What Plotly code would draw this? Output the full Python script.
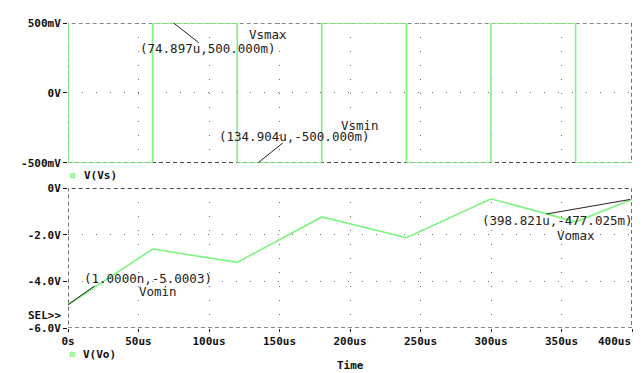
import plotly.graph_objects as go

# ---- data ----
vs_time_us = [0, 0, 60, 60, 120, 120, 180, 180, 240, 240, 300, 300, 360, 360, 400]
vs_volt = [0.5, -0.5, -0.5, 0.5, 0.5, -0.5, -0.5, 0.5, 0.5, -0.5, -0.5, 0.5, 0.5, -0.5, -0.5]
vo_time_us = [0, 60, 120, 180, 240, 300, 360, 400]
vo_volt = [-5.0, -2.61, -3.18, -1.23, -2.12, -0.45, -1.44, -0.477]

x_ticks = [0, 50, 100, 150, 200, 250, 300, 350, 400]
x_ticklabels = ["0s", "50us", "100us", "150us", "200us", "250us", "300us", "350us", "400us"]
vs_ticks = [-0.5, 0, 0.5]
vs_ticklabels = ["-500mV", "0V", "500mV"]
vo_ticks = [-6, -4, -2, 0]
vo_ticklabels = ["-6.0V", "-4.0V", "-2.0V", "0V"]

# the page body has an 8px margin: the figure starts at (8, 8) in the window
OFF = 8
W, H = 642 - OFF, 373 - OFF
ML, MR, MT, MB = 68 - OFF, 10, 23 - OFF, 45
PW, PH = W - ML - MR, H - MT - MB

def px(x):
    return (x - OFF - ML) / PW

def py(y):
    return (H - MB - (y - OFF)) / PH

GREEN = "#7cf57c"
GRID = "#6e6e6e"
AXF = dict(family="DejaVu Sans Mono", size=11, color="#111", weight="bold")
TXF = dict(family="DejaVu Sans Mono", size=12.5, color="#222")

fig = go.Figure()
fig.add_trace(go.Scatter(x=vs_time_us, y=vs_volt, mode="lines",
                         line=dict(color=GREEN, width=1.6), xaxis="x", yaxis="y",
                         showlegend=False, hoverinfo="skip"))
fig.add_trace(go.Scatter(x=vo_time_us, y=vo_volt, mode="lines",
                         line=dict(color=GREEN, width=1.6), xaxis="x2", yaxis="y2",
                         showlegend=False, hoverinfo="skip"))

grid = dict(showgrid=True, gridcolor=GRID, gridwidth=1, griddash="1px,13px",
            zeroline=False, showline=False, automargin=False)

# last x label drawn separately (right-aligned at the plot edge, as in the reference)
x_ticklabels_drawn = x_ticklabels[:-1] + [""]

fig.update_layout(
    width=W, height=H, margin=dict(l=ML, r=MR, t=MT, b=MB, autoexpand=False),
    paper_bgcolor="white", plot_bgcolor="white", showlegend=False,
    xaxis=dict(domain=[0, 1], anchor="y", range=[0, 400], tickvals=x_ticks,
               showticklabels=False, ticks="", **grid),
    yaxis=dict(domain=[0.542, 1], anchor="x", range=[-0.5, 0.5], tickvals=vs_ticks,
               ticktext=vs_ticklabels, ticks="outside", ticklen=4, tickcolor="#111",
               tickfont=AXF, **grid),
    xaxis2=dict(domain=[0, 1], anchor="y2", range=[0, 400], tickvals=x_ticks,
                ticktext=x_ticklabels_drawn, ticks="outside", ticklen=3, tickcolor="#111",
                tickfont=AXF, **grid),
    yaxis2=dict(domain=[0, 0.458], anchor="x2", range=[-6, 0], tickvals=vo_ticks,
                ticktext=vo_ticklabels, ticks="outside", ticklen=4, tickcolor="#111",
                tickfont=AXF, **grid),
)

frame = dict(color="#111", width=1.2, dash="4px,3px")
fig.add_shape(type="rect", xref="x", yref="y", x0=0, x1=400, y0=-0.5, y1=0.5,
              line=frame, layer="below")
fig.add_shape(type="rect", xref="x2", yref="y2", x0=0, x1=400, y0=-6, y1=0,
              line=frame, layer="below")

# marker leader lines
lines = [
    ("x", "y", 74.897, 0.5, 92.7, 0.359),
    ("x", "y", 134.904, -0.5, 152.3, -0.359),
    ("x2", "y2", 0.001, -5.0003, 18.9, -4.19),
    ("x2", "y2", 398.821, -0.477, 339.3, -1.105),
]
for xr, yr, x0, y0, x1, y1 in lines:
    fig.add_shape(type="line", xref=xr, yref=yr, x0=x0, y0=y0, x1=x1, y1=y1,
                  line=dict(color="#222", width=1))

texts = [
    ("x", "y", 126.7, 0.416, "Vsmax"),
    ("x", "y", 49.5, 0.319, "(74.897u,500.000m)"),
    ("x", "y", 192.0, -0.237, "Vsmin"),
    ("x", "y", 105.5, -0.316, "(134.904u,-500.000m)"),
    ("x2", "y2", 9.7, -3.86, "(1.0000n,-5.0003)"),
    ("x2", "y2", 48.8, -4.42, "Vomin"),
    ("x2", "y2", 292.0, -1.39, "(398.821u,-477.025m)"),
    ("x2", "y2", 345.2, -2.01, "Vomax"),
]
for xr, yr, x, y, t in texts:
    fig.add_annotation(xref=xr, yref=yr, x=x, y=y, text=t, showarrow=False,
                       xanchor="left", yanchor="middle", font=TXF)

# legends / labels in window-pixel positions
def ptext(x, y, t, anchor="left", font=AXF):
    fig.add_annotation(xref="paper", yref="paper", x=px(x), y=py(y), text=t,
                       showarrow=False, xanchor=anchor, yanchor="middle", font=font)

ptext(81.5, 175.5, "V(Vs)")
ptext(81.0, 354.5, "V(Vo)")
ptext(63, 315.5, "SEL>>", anchor="right")
ptext(350.5, 365.5, "Time", anchor="center")
ptext(632.5, 341.5, x_ticklabels[-1], anchor="right")

for sx, sy in [(72.7, 175.7), (72.3, 354.3)]:
    fig.add_shape(type="rect", xref="paper", yref="paper",
                  x0=px(sx - 2), x1=px(sx + 2), y0=py(sy + 2), y1=py(sy - 2),
                  line=dict(color=GREEN, width=1), fillcolor="#b8f8b8")

fig.write_html("out.html")
